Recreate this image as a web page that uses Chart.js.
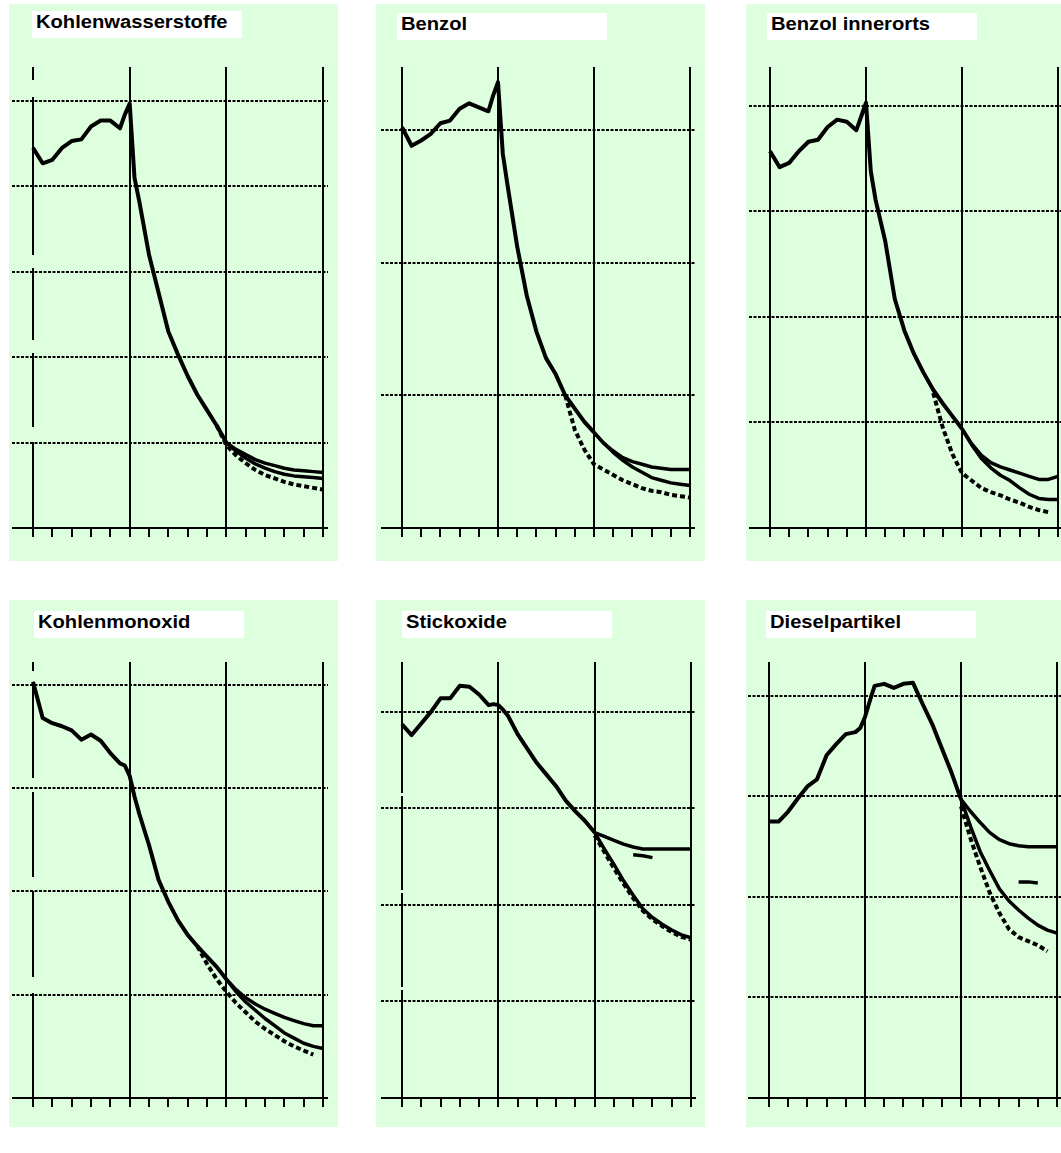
<!DOCTYPE html>
<html>
<head>
<meta charset="utf-8">
<title>Emissionen</title>
<script src="https://cdn.jsdelivr.net/npm/chart.js@4"></script>
<style>
  body { margin: 0; width: 1061px; height: 1153px; position: relative; overflow: hidden; background: #fff;
         font-family: "Liberation Sans", Arial, sans-serif; }
  .panel { position: absolute; background: #ddffdd; }
  .title { position: absolute; width: 210px; height: 27px; background: #fff; }
  .title span { position: absolute; left: 4px; top: 2px; font-size: 18px; line-height: 18px; font-weight: bold;
                white-space: nowrap; transform: scaleX(1.12); transform-origin: left top; color: #000; }
  .plot { position: absolute; }
</style>
</head>
<body>
<script>
// x positions (years) of the measured curve and of the scenario curves
const histYears = [1980, 1981, 1982, 1983, 1984, 1985, 1986, 1987, 1988, 1989, 1989.5, 1990, 1990.5,
                   1991, 1992, 1993, 1994, 1995, 1996, 1997, 1998, 1999, 2000];
const scenYears = [1996, 1997, 1998, 1999, 2000, 2001, 2002, 2003, 2004, 2005, 2006, 2007, 2008, 2009, 2010];
const tickYears = [1980, 1982, 1984, 1986, 1988, 1990, 1992, 1994, 1996, 1998, 2000, 2002, 2004, 2006, 2008, 2010];
const majorYears = [1980, 1990, 2000, 2010];

const titles = ['Kohlenwasserstoffe', 'Benzol', 'Benzol innerorts', 'Kohlenmonoxid', 'Stickoxide', 'Dieselpartikel'];

// dotted gridlines (values) per panel
const gridKW = [1, 2, 3, 4, 5];
const gridBZ = [1, 2, 3];
const gridBI = [1, 2, 3, 4];
const gridCO = [1, 2, 3, 4];
const gridNO = [1, 2, 3, 4];
const gridDP = [1, 2, 3, 4];

// Kohlenwasserstoffe
const kwHist = [4.45, 4.27, 4.31, 4.45, 4.53, 4.55, 4.70, 4.77, 4.77, 4.68, 4.84, 4.97, 4.10,
                3.82, 3.20, 2.75, 2.30, 2.03, 1.78, 1.56, 1.38, 1.20, 1.00];
const kwHigh = [null, null, null, null, 1.00, 0.92, 0.86, 0.80, 0.76, 0.73, 0.70, 0.68, 0.67, 0.66, 0.65];
const kwLow  = [null, null, null, null, 1.00, 0.90, 0.82, 0.75, 0.70, 0.66, 0.63, 0.61, 0.60, 0.59, 0.58];
const kwDash = [null, null, null, 1.20, 0.97, 0.85, 0.76, 0.68, 0.62, 0.58, 0.54, 0.51, 0.49, 0.47, 0.45];

// Benzol
const bzHist = [3.02, 2.88, 2.92, 2.97, 3.05, 3.07, 3.16, 3.20, 3.17, 3.14, 3.26, 3.36, 2.82,
                2.58, 2.12, 1.75, 1.48, 1.28, 1.16, 1.00, 0.90, 0.80, 0.72];
const bzHigh = [null, null, null, null, 0.72, 0.64, 0.58, 0.53, 0.50, 0.48, 0.46, 0.45, 0.44, 0.44, 0.44];
const bzLow  = [null, null, null, null, 0.72, 0.64, 0.57, 0.51, 0.46, 0.42, 0.38, 0.36, 0.34, 0.33, 0.32];
const bzDash = [null, 1.00, 0.74, 0.59, 0.48, 0.44, 0.40, 0.36, 0.33, 0.30, 0.28, 0.27, 0.25, 0.24, 0.23];

// Benzol innerorts
const biHist = [3.57, 3.42, 3.46, 3.57, 3.66, 3.68, 3.80, 3.87, 3.85, 3.77, 3.90, 4.03, 3.38,
                3.11, 2.72, 2.17, 1.87, 1.65, 1.47, 1.31, 1.18, 1.06, 0.94];
const biHigh = [null, null, null, null, 0.94, 0.80, 0.69, 0.62, 0.58, 0.55, 0.52, 0.49, 0.46, 0.46, 0.49];
const biLow  = [null, null, null, null, 0.94, 0.79, 0.66, 0.57, 0.50, 0.45, 0.38, 0.32, 0.28, 0.27, 0.27];
const biDash = [null, 1.28, 0.95, 0.70, 0.52, 0.45, 0.38, 0.34, 0.31, 0.27, 0.24, 0.20, 0.17, 0.15, null];

// Kohlenmonoxid
const coHist = [4.03, 3.68, 3.63, 3.60, 3.56, 3.47, 3.52, 3.46, 3.34, 3.24, 3.22, 3.12, 2.92,
                2.75, 2.45, 2.11, 1.90, 1.72, 1.58, 1.47, 1.37, 1.27, 1.15];
const coHigh = [null, null, null, null, 1.15, 1.05, 0.97, 0.91, 0.86, 0.82, 0.78, 0.75, 0.72, 0.70, 0.70];
const coLow  = [null, null, null, null, 1.15, 1.03, 0.93, 0.85, 0.77, 0.70, 0.63, 0.58, 0.53, 0.50, 0.48];
const coDash = [null, 1.47, 1.30, 1.15, 1.03, 0.92, 0.83, 0.74, 0.67, 0.61, 0.55, 0.50, 0.46, 0.42, null];

// Stickoxide
const noHist = [3.87, 3.76, 3.88, 4.00, 4.14, 4.14, 4.27, 4.26, 4.18, 4.07, 4.08, 4.07, 4.02,
                3.96, 3.77, 3.62, 3.47, 3.35, 3.23, 3.08, 2.97, 2.87, 2.75];
const noHigh = [null, null, null, null, 2.75, 2.71, 2.67, 2.63, 2.60, 2.58, 2.58, 2.58, 2.58, 2.58, 2.58];
const noLow  = [null, null, null, null, 2.75, 2.58, 2.42, 2.25, 2.10, 1.96, 1.87, 1.80, 1.74, 1.69, 1.66];
const noDash = [null, null, null, null, 2.72, 2.55, 2.38, 2.22, 2.07, 1.94, 1.85, 1.78, 1.72, 1.67, 1.64];
const noMid  = [null, null, null, null, null, null, null, null, 2.52, 2.51, 2.49, null, null, null, null];

// Dieselpartikel
const dpHist = [2.75, 2.75, 2.85, 2.98, 3.10, 3.17, 3.41, 3.52, 3.62, 3.64, 3.68, 3.79, 3.95,
                4.10, 4.12, 4.08, 4.12, 4.13, 3.92, 3.72, 3.48, 3.24, 2.97];
const dpHigh = [null, null, null, null, 2.97, 2.85, 2.74, 2.64, 2.57, 2.53, 2.51, 2.50, 2.50, 2.50, 2.50];
const dpLow  = [null, null, null, null, 2.97, 2.70, 2.45, 2.26, 2.08, 1.96, 1.87, 1.79, 1.72, 1.67, 1.64];
const dpDash = [null, null, null, null, 2.90, 2.58, 2.30, 2.04, 1.84, 1.68, 1.60, 1.56, 1.52, 1.46, null];
const dpMid  = [null, null, null, null, null, null, null, null, null, null, 2.15, 2.15, 2.14, null, null];

// page layout of the six panels (pixels)
const panels = [
  { title: titles[0], hist: kwHist, high: kwHigh, low: kwLow, dash: kwDash, mid: null, grid: gridKW,
    box: [9, 4, 329, 557], label: [32, 11], x0: 33, x1: 323, top: 67, axis: 529, unit: 85.6,
    leftDash: [13, 17, 158, 13, 72, 13, 74, 15, 400] },
  { title: titles[1], hist: bzHist, high: bzHigh, low: bzLow, dash: bzDash, mid: null, grid: gridBZ,
    box: [376, 4, 329, 557], label: [397, 13], x0: 402, x1: 690, top: 67, axis: 529, unit: 133, leftDash: null },
  { title: titles[2], hist: biHist, high: biHigh, low: biLow, dash: biDash, mid: null, grid: gridBI,
    box: [746, 4, 315, 557], label: [767, 13], x0: 770, x1: 1058, top: 67, axis: 529, unit: 105.75, leftDash: null },
  { title: titles[3], hist: coHist, high: coHigh, low: coLow, dash: coDash, mid: null, grid: gridCO,
    box: [9, 600, 329, 527], label: [34, 611], x0: 33, x1: 323, top: 662, axis: 1099, unit: 103.5,
    leftDash: [9, 13, 94, 14, 85, 14, 86, 16, 400] },
  { title: titles[4], hist: noHist, high: noHigh, low: noLow, dash: noDash, mid: noMid, grid: gridNO,
    box: [376, 600, 329, 527], label: [402, 611], x0: 402, x1: 691, top: 662, axis: 1099, unit: 96.75,
    leftDash: [131, 3, 94, 3, 94, 3, 400] },
  { title: titles[5], hist: dpHist, high: dpHigh, low: dpLow, dash: dpDash, mid: dpMid, grid: gridDP,
    box: [746, 600, 315, 527], label: [766, 611], x0: 769, x1: 1057, top: 662, axis: 1099, unit: 100.75, leftDash: null }
];

function points(xs, ys) {
  return xs.map((x, i) => ({ x: x, y: ys[i] }));
}

function line(xs, ys, width, dash) {
  return {
    data: points(xs, ys),
    borderColor: '#000',
    borderWidth: width,
    borderDash: dash || [],
    pointRadius: 0,
    tension: 0,
    spanGaps: false,
    borderJoinStyle: 'round'
  };
}

function buildPanel(p) {
  const box = document.createElement('div');
  box.className = 'panel';
  box.style.left = p.box[0] + 'px';
  box.style.top = p.box[1] + 'px';
  box.style.width = p.box[2] + 'px';
  box.style.height = p.box[3] + 'px';
  document.body.appendChild(box);

  const lab = document.createElement('div');
  lab.className = 'title';
  lab.style.left = p.label[0] + 'px';
  lab.style.top = p.label[1] + 'px';
  const span = document.createElement('span');
  span.textContent = p.title;
  lab.appendChild(span);
  document.body.appendChild(lab);

  const left = p.x0 - 21;
  const right = Math.min(p.x1 + 5, 1061);
  const wrap = document.createElement('div');
  wrap.className = 'plot';
  wrap.style.left = left + 'px';
  wrap.style.top = p.top + 'px';
  wrap.style.width = (right - left) + 'px';
  wrap.style.height = (p.axis - p.top + 8) + 'px';
  const canvas = document.createElement('canvas');
  wrap.appendChild(canvas);
  document.body.appendChild(wrap);

  const ppy = (p.x1 - p.x0) / 30;
  const datasets = [
    line(histYears, p.hist, 4),
    line(scenYears, p.high, 3.5),
    line(scenYears, p.low, 3.5),
    line(scenYears, p.dash, 4, [5, 3])
  ];
  if (p.mid) datasets.push(line(scenYears, p.mid, 3.5));

  new Chart(canvas, {
    type: 'line',
    data: { datasets: datasets },
    options: {
      responsive: true,
      maintainAspectRatio: false,
      animation: false,
      events: [],
      layout: { padding: 0 },
      plugins: { legend: { display: false }, tooltip: { enabled: false }, title: { display: false } },
      scales: {
        x: {
          type: 'linear',
          min: 1980 - (p.x0 - left) / ppy,
          max: 1980 + (right - p.x0) / ppy,
          afterBuildTicks: (scale) => { scale.ticks = tickYears.map(v => ({ value: v })); },
          ticks: { display: false },
          grid: {
            color: (c) => (c.tick && majorYears.includes(c.tick.value)) ? '#000' : 'rgba(0,0,0,0)',
            tickColor: '#000',
            lineWidth: 2,
            tickLength: 9,
            drawTicks: true
          },
          border: {
            display: true,
            color: '#000',
            width: 2,
            dash: (c) => (p.leftDash && c.tick && c.tick.value === 1980) ? p.leftDash : []
          }
        },
        y: {
          type: 'linear',
          min: 0,
          max: (p.axis - p.top) / p.unit,
          afterBuildTicks: (scale) => { scale.ticks = p.grid.map(v => ({ value: v })); },
          ticks: { display: false },
          grid: { color: '#000', lineWidth: 2, drawTicks: false },
          border: { display: false, dash: [3, 1.5] }
        }
      }
    }
  });
}

panels.forEach(buildPanel);
</script>
</body>
</html>
